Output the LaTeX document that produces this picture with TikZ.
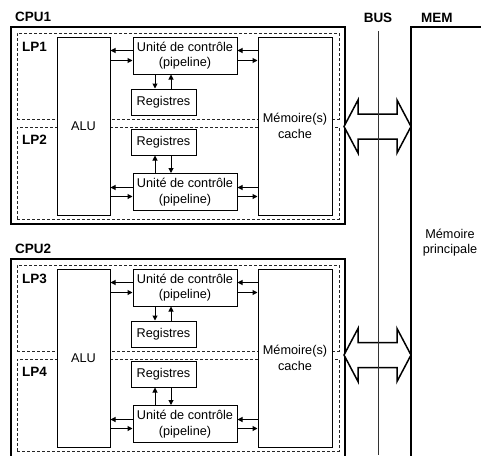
\documentclass[tikz,border=0pt]{standalone}
\usepackage{fontspec}
\setmainfont{Liberation Sans}
\usetikzlibrary{arrows.meta,fit}
\tikzset{
  txt/.style={font=\fontsize{12.7}{15.5}\selectfont, align=center},
  lbl/.style={font=\fontsize{13.5}{16}\selectfont\bfseries, inner sep=0pt},
  blk/.style={draw, line width=1pt, fill=white, inner sep=0pt, txt},
  cpubox/.style={draw, line width=2pt, inner sep=0pt},
  lpbox/.style={draw=black!85, line width=1pt, dash pattern=on 3pt off 2pt, inner sep=0pt},
  arr/.style={line width=1pt, -{Triangle[length=5pt,width=5pt]}},
  bigarrow/.style={draw, line width=1.5pt, fill=white, line join=miter},
}
% #1 offset, #2 cpu label, #3 upper LP label, #4 lower LP label, #5 suffix, #6 cpu bottom
\newcommand\cpublock[6]{%
  \node[cpubox, fit={(11,{27+#1}) (345,#6)}] (cpu#5) {};
  \node[lbl, anchor=base west] (cpul#5) at (15,{21+#1}) {#2};
  \node[lpbox, fit={(17,{33+#1}) (339,{119+#1})}] (lpa#5) {};
  \node[lpbox, fit={(17,{127+#1}) (339,{219+#1})}] (lpb#5) {};
  \node[lbl, anchor=base west] (lpal#5) at (22,{51+#1}) {#3};
  \node[lbl, anchor=base west] (lpbl#5) at (22,{144+#1}) {#4};
  \node[blk, minimum width=53pt, minimum height=178pt] (alu#5) at (83.5,{126+#1}) {ALU};
  \node[blk, minimum width=74pt, minimum height=178pt] (cache#5) at (295,{126+#1}) {Mémoire(s)\\cache};
  \node[blk, minimum width=104pt, minimum height=37pt] (uca#5) at (185,{55.5+#1}) {Unité de contrôle\\(pipeline)};
  \node[blk, minimum width=65pt, minimum height=26pt] (rega#5) at (163.5,{102+#1}) {Registres};
  \node[blk, minimum width=65pt, minimum height=26pt] (regb#5) at (163.5,{142+#1}) {Registres};
  \node[blk, minimum width=104pt, minimum height=37pt] (ucb#5) at (185,{192+#1}) {Unité de contrôle\\(pipeline)};
  \draw[arr] (uca#5.west |- 0,{50.5+#1}) -- (alu#5.east |- 0,{50.5+#1});
  \draw[arr] (alu#5.east |- 0,{60.5+#1}) -- (uca#5.west |- 0,{60.5+#1});
  \draw[arr] (cache#5.west |- 0,{50.5+#1}) -- (uca#5.east |- 0,{50.5+#1});
  \draw[arr] (uca#5.east |- 0,{60.5+#1}) -- (cache#5.west |- 0,{60.5+#1});
  \draw[arr] (uca#5.south -| 155,0) -- (rega#5.north -| 155,0);
  \draw[arr] (rega#5.north -| 171,0) -- (uca#5.south -| 171,0);
  \draw[arr] (ucb#5.west |- 0,{187.5+#1}) -- (alu#5.east |- 0,{187.5+#1});
  \draw[arr] (alu#5.east |- 0,{196.5+#1}) -- (ucb#5.west |- 0,{196.5+#1});
  \draw[arr] (cache#5.west |- 0,{187.5+#1}) -- (ucb#5.east |- 0,{187.5+#1});
  \draw[arr] (ucb#5.east |- 0,{196.5+#1}) -- (cache#5.west |- 0,{196.5+#1});
  \draw[arr] (ucb#5.north -| 155,0) -- (regb#5.south -| 155,0);
  \draw[arr] (regb#5.south -| 171,0) -- (ucb#5.north -| 171,0);
}
\newcommand\dblarrow[1]{%
  \draw[bigarrow] (344,#1) -- (358,{#1-26.5}) -- (358,{#1-12.5}) -- (397,{#1-12.5})
    -- (397,{#1-26.5}) -- (411,#1) -- (397,{#1+26.5}) -- (397,{#1+12.5})
    -- (358,{#1+12.5}) -- (358,{#1+26.5}) -- cycle;
}
\begin{document}
\begin{tikzpicture}[x=1pt,y=-1pt]
  \useasboundingbox (0,0) rectangle (481,455);
  \cpublock{0}{CPU1}{LP1}{LP2}{1}{224}
  \cpublock{232}{CPU2}{LP3}{LP4}{2}{460}
  % main memory
  \node[draw, line width=1.5pt, inner sep=0pt, fit={(411,27) (520,480)}] (mem) {};
  \node[lbl, anchor=base west] (meml) at (421,22) {MEM};
  \node[txt] (memtxt) at (450,242.5) {Mémoire\\principale};
  % bus arrows
  \dblarrow{126.5}
  \dblarrow{355}
  % bus
  \node[lbl, anchor=base] (busl) at (378,22) {BUS};
  \coordinate (bustop) at (378,31);
  \coordinate (busbot) at (378,455);
  \draw[line width=1pt, black!80] (bustop) -- (busbot);
\end{tikzpicture}
\end{document}
